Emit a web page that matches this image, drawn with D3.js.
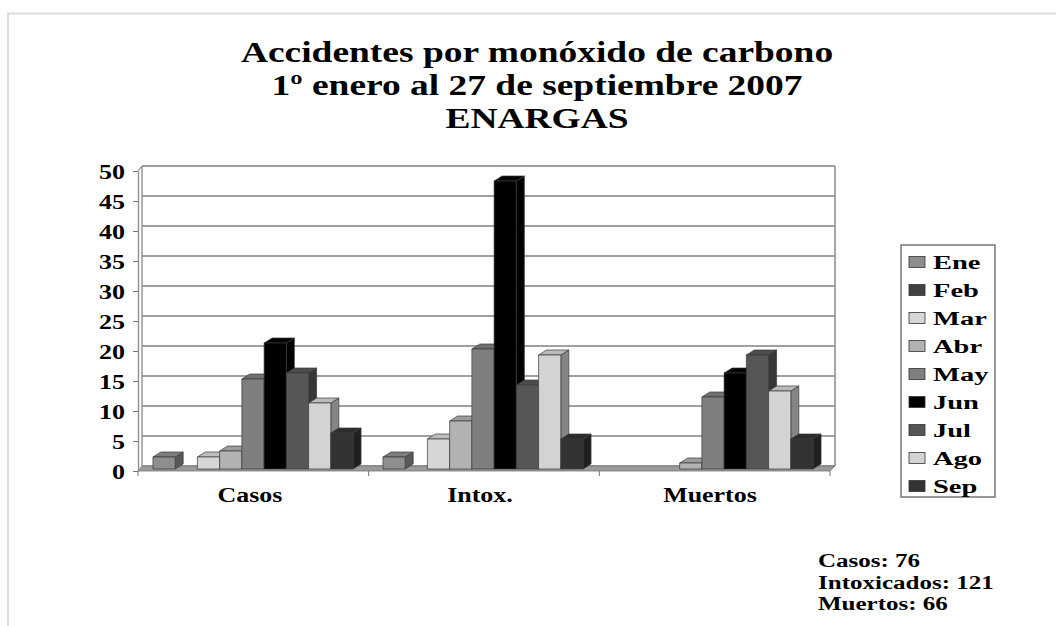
<!DOCTYPE html>
<html>
<head>
<meta charset="utf-8">
<script src="https://cdn.jsdelivr.net/npm/d3@7/dist/d3.min.js"></script>
<style>
  html, body { margin: 0; padding: 0; background: #fff; }
  svg { display: block; }
  text { font-family: "Liberation Serif", "Times New Roman", serif; font-weight: bold; fill: #000; }
</style>
</head>
<body>
<svg id="chart" width="1056" height="626"></svg>
<script>
// ---- data ----
const titleLines = ["Accidentes por monóxido de carbono", "1º enero al 27 de septiembre 2007", "ENARGAS"];
const categories = ["Casos", "Intox.", "Muertos"];
const months = ["Ene", "Feb", "Mar", "Abr", "May", "Jun", "Jul", "Ago", "Sep"];
const casos   = [2, 0, 2, 3, 15, 21, 16, 11, 6];
const intox   = [2, 0, 5, 8, 20, 48, 14, 19, 5];
const muertos = [0, 0, 0, 1, 12, 16, 19, 13, 5];
const yTicks = [0, 5, 10, 15, 20, 25, 30, 35, 40, 45, 50];
const noteLabels = ["Casos", "Intoxicados", "Muertos"];
const monthColors = ["#8e8e8e", "#414141", "#d6d6d6", "#b2b2b2", "#7f7f7f", "#000000", "#565656", "#d3d3d3", "#333333"];

const seriesByCat = [casos, intox, muertos];

const svg = d3.select("#chart");

// frame
svg.append("path")
  .attr("d", "M8,626 L8,13.5 L1056,13.5")
  .attr("fill", "none").attr("stroke", "#dcdcdc").attr("stroke-width", 2);

// title
const title = svg.append("g");
titleLines.forEach((t, i) => {
  title.append("g")
    .attr("transform", `translate(537,${62 + i * 33}) scale(1.27,1)`)
    .append("text").attr("text-anchor", "middle").attr("font-size", 29.5).text(t);
});

// scales
const y = d3.scaleLinear().domain([0, 50]).range([469, 169]);
const x0 = d3.scaleBand().domain(categories).range([138, 828]).paddingInner(0.13).paddingOuter(0.065);
const x1 = d3.scaleBand().domain(months).range([0, x0.bandwidth()]);
const color = d3.scaleOrdinal().domain(months).range(monthColors);

const wallDx = 4, wallDy = -3;
const frontLeft = 138, frontRight = 830, backRight = 835;

// back-wall gridlines
svg.append("g").selectAll("line").data(yTicks).join("line")
  .attr("x1", frontLeft + wallDx).attr("x2", backRight)
  .attr("y1", d => y(d) + wallDy).attr("y2", d => y(d) + wallDy)
  .attr("stroke", "#a0a0a0").attr("stroke-width", 1.8);

// wall edges
svg.append("line").attr("x1", frontLeft + wallDx).attr("x2", frontLeft + wallDx)
  .attr("y1", y(50) + wallDy).attr("y2", y(0) + wallDy).attr("stroke", "#8a8a8a").attr("stroke-width", 1.3);
svg.append("line").attr("x1", backRight).attr("x2", backRight)
  .attr("y1", y(50) + wallDy).attr("y2", y(0) + wallDy).attr("stroke", "#8a8a8a").attr("stroke-width", 1.5);

// floor
svg.append("path")
  .attr("d", `M${frontLeft},${y(0) + 2} L${frontRight},${y(0) + 2} L${backRight},${y(0) + wallDy} L${frontLeft + wallDx},${y(0) + wallDy} Z`)
  .attr("fill", "#9a9a9a").attr("stroke", "#777").attr("stroke-width", 0.8);

// y axis (front)
const yAxis = d3.axisLeft(y).tickValues(yTicks).tickSizeInner(5).tickSizeOuter(0).tickPadding(6);
const yg = svg.append("g").attr("transform", `translate(${frontLeft},2)`).call(yAxis);
yg.select(".domain").attr("stroke", "#8a8a8a").attr("stroke-width", 1.3);
yg.selectAll(".tick line").attr("stroke", "#777");
yg.selectAll(".tick text").attr("font-size", 22).attr("fill", "#000")
  .attr("font-family", "Liberation Serif").attr("font-weight", "bold")
  .attr("transform", "scale(1.18,1)").attr("dy", "0.36em");
svg.append("line").attr("x1", frontLeft).attr("y1", y(50) + 2).attr("x2", frontLeft + wallDx).attr("y2", y(50) + wallDy)
  .attr("stroke", "#8a8a8a").attr("stroke-width", 1.2);

// bars
const depthDx = 8, depthDy = 5;
const bars = svg.append("g");
categories.forEach((cat, ci) => {
  months.forEach((m, mi) => {
    const v = seriesByCat[ci][mi];
    if (!v) return;
    const bx = x0(cat) + x1(m);
    const bw = x1.bandwidth();
    const top = y(v), base = y(0);
    const c = d3.color(color(m));
    const g = bars.append("g").attr("stroke", "#3a3a3a").attr("stroke-width", 0.7).attr("stroke-linejoin", "round");
    g.append("path")
      .attr("d", `M${bx + bw},${base} L${bx + bw + depthDx},${base - depthDy} L${bx + bw + depthDx},${top - depthDy} L${bx + bw},${top} Z`)
      .attr("fill", c.darker(1.3).toString());
    g.append("path")
      .attr("d", `M${bx},${top} L${bx + depthDx},${top - depthDy} L${bx + bw + depthDx},${top - depthDy} L${bx + bw},${top} Z`)
      .attr("fill", c.darker(0.35).toString());
    g.append("rect").attr("x", bx).attr("y", top).attr("width", bw).attr("height", base - top)
      .attr("fill", c.toString());
  });
});

// x axis (categories)
const xAxis = d3.axisBottom(x0).tickSize(0).tickPadding(20);
const xg = svg.append("g").attr("transform", `translate(-3,${y(0) + 2})`).call(xAxis);
xg.select(".domain").remove();
xg.selectAll(".tick text").attr("font-size", 22).attr("fill", "#000")
  .attr("font-family", "Liberation Serif").attr("font-weight", "bold")
  .attr("transform", "scale(1.18,1)").attr("dy", "0.5em");
// category boundary ticks
const bounds = d3.range(categories.length + 1).map(i => frontLeft + i * (frontRight - frontLeft) / categories.length);
svg.append("g").selectAll("line").data(bounds).join("line")
  .attr("x1", d => d).attr("x2", d => d).attr("y1", y(0) + 2).attr("y2", y(0) + 7)
  .attr("stroke", "#777").attr("stroke-width", 1);

// legend
const lg = svg.append("g");
lg.append("rect").attr("x", 901).attr("y", 245).attr("width", 94).attr("height", 252)
  .attr("fill", "#fff").attr("stroke", "#777").attr("stroke-width", 1.5);
months.forEach((m, i) => {
  const cy = 262 + i * 28;
  lg.append("rect").attr("x", 909).attr("y", cy - 5.5).attr("width", 16).attr("height", 11)
    .attr("fill", color(m)).attr("stroke", "#333").attr("stroke-width", 0.8);
  lg.append("g").attr("transform", `translate(933,${cy + 6.5}) scale(1.5,1)`)
    .append("text").attr("font-size", 19).text(m);
});

// totals notes
noteLabels.forEach((lab, i) => {
  svg.append("g").attr("transform", `translate(818,${567 + i * 21.5}) scale(1.39,1)`)
    .append("text").attr("font-size", 18).text(`${lab}: ${d3.sum(seriesByCat[i])}`);
});
</script>
</body>
</html>
